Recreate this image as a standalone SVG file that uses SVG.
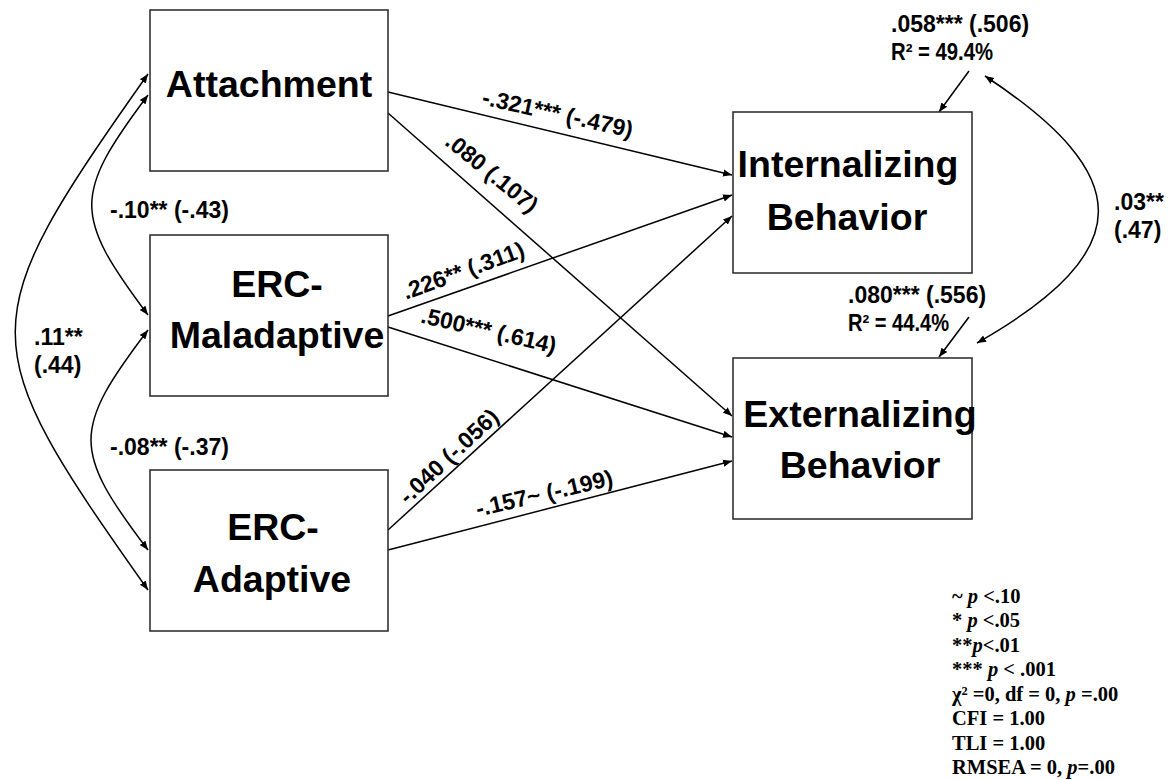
<svg xmlns="http://www.w3.org/2000/svg" width="1172" height="780" viewBox="0 0 1172 780">
  <style>
    .box { fill: #ffffff; stroke: #262626; stroke-width: 1.5; }
    .node-text { font-family: "Liberation Sans", Arial, sans-serif; font-weight: bold; font-size: 37.5px; fill: #000; text-anchor: middle; }
    .edge { fill: none; stroke: #000; stroke-width: 1.5; marker-end: url(#arrow); }
    .cov { fill: none; stroke: #000; stroke-width: 1.5; marker-start: url(#arrow); marker-end: url(#arrow); }
    .lbl { font-family: "Liberation Sans", Arial, sans-serif; font-weight: bold; font-size: 23px; fill: #000; }
    .mid { text-anchor: middle; }
    .legend { font-family: "Liberation Serif", "Times New Roman", serif; font-weight: bold; font-size: 20.5px; fill: #000; }
    .it { font-style: italic; }
  </style>
  <defs>
    <marker id="arrow" viewBox="0 0 10 10" refX="10" refY="5" markerWidth="9" markerHeight="9" markerUnits="userSpaceOnUse" orient="auto-start-reverse">
      <path d="M0,1 L10,5 L0,9 z" fill="#000"/>
    </marker>
  </defs>

  <rect width="1172" height="780" fill="#ffffff"/>

  <!-- connectors -->
  <g id="connectors">
    <!-- regression paths -->
    <path class="edge" d="M388,92 L732,175"/>
    <path class="edge" d="M388,113 L732,416"/>
    <path class="edge" d="M388,316 L732,195"/>
    <path class="edge" d="M388,327 L732,437"/>
    <path class="edge" d="M388,530 L732,216"/>
    <path class="edge" d="M388,550 L732,461"/>
    <!-- residual arrows -->
    <path class="edge" d="M969,71 L939,112"/>
    <path class="edge" d="M969,317 L939,357"/>
    <!-- covariances -->
    <path class="cov" d="M148,95 C73,195 73,215 148,315"/>
    <path class="cov" d="M148,330 C72,430 72,450 148,550"/>
    <path class="cov" d="M148,74 C-29,325 -29,340 148,590"/>
    <path class="cov" d="M985,76 C1135,175 1140,250 977,343"/>
  </g>

  <!-- nodes -->
  <g id="attachment">
    <rect class="box" x="150" y="10" width="238" height="161"/>
    <text class="node-text" x="269" y="97">Attachment</text>
  </g>
  <g id="erc-maladaptive">
    <rect class="box" x="150" y="235" width="238" height="161"/>
    <text class="node-text" x="277" y="297">ERC-</text>
    <text class="node-text" x="277" y="348">Maladaptive</text>
  </g>
  <g id="erc-adaptive">
    <rect class="box" x="150" y="470" width="238" height="161"/>
    <text class="node-text" x="273" y="540">ERC-</text>
    <text class="node-text" x="272" y="592">Adaptive</text>
  </g>
  <g id="internalizing">
    <rect class="box" x="733" y="112" width="239" height="161"/>
    <text class="node-text" x="848" y="177">Internalizing</text>
    <text class="node-text" x="847" y="230">Behavior</text>
  </g>
  <g id="externalizing">
    <rect class="box" x="733" y="358" width="239" height="161"/>
    <text class="node-text" x="860" y="427">Externalizing</text>
    <text class="node-text" x="860" y="478">Behavior</text>
  </g>

  <!-- path coefficients -->
  <g id="labels">
    <text class="lbl mid" x="556" y="121" transform="rotate(12.5 556 121)">-.321*** (-.479)</text>
    <text class="lbl mid" x="487" y="179" transform="rotate(39 487 179)">.080 (.107)</text>
    <text class="lbl mid" x="466" y="278" transform="rotate(-20 466 278)">.226** (.311)</text>
    <text class="lbl mid" x="487" y="338" transform="rotate(13 487 338)">.500*** (.614)</text>
    <text class="lbl mid" x="454" y="462" transform="rotate(-43 454 462)">-.040 (-.056)</text>
    <text class="lbl mid" x="546" y="501" transform="rotate(-13 546 501)">-.157~ (-.199)</text>

    <text class="lbl" x="110" y="218">-.10** (-.43)</text>
    <text class="lbl" x="110" y="455">-.08** (-.37)</text>
    <text class="lbl" x="34" y="345">.11**</text>
    <text class="lbl" x="34" y="373">(.44)</text>
    <text class="lbl" x="1114" y="210">.03**</text>
    <text class="lbl" x="1114" y="238">(.47)</text>

    <text class="lbl" x="891" y="32">.058*** (.506)</text>
    <text class="lbl" x="891" y="60" textLength="102" lengthAdjust="spacingAndGlyphs">R² = 49.4%</text>
    <text class="lbl" x="848" y="303">.080*** (.556)</text>
    <text class="lbl" x="848" y="331" textLength="101" lengthAdjust="spacingAndGlyphs">R² = 44.4%</text>
  </g>

  <!-- significance key and fit indices -->
  <g id="legend" class="legend">
    <text x="952" y="603">~ <tspan class="it">p</tspan> &lt;.10</text>
    <text x="952" y="627">* <tspan class="it">p</tspan> &lt;.05</text>
    <text x="952" y="652">**<tspan class="it">p</tspan>&lt;.01</text>
    <text x="952" y="676">*** <tspan class="it">p</tspan> &lt; .001</text>
    <text x="952" y="701">χ² =0, df = 0, <tspan class="it">p</tspan> =.00</text>
    <text x="952" y="725">CFI = 1.00</text>
    <text x="952" y="750">TLI = 1.00</text>
    <text x="952" y="774">RMSEA = 0, <tspan class="it">p</tspan>=.00</text>
  </g>
</svg>
